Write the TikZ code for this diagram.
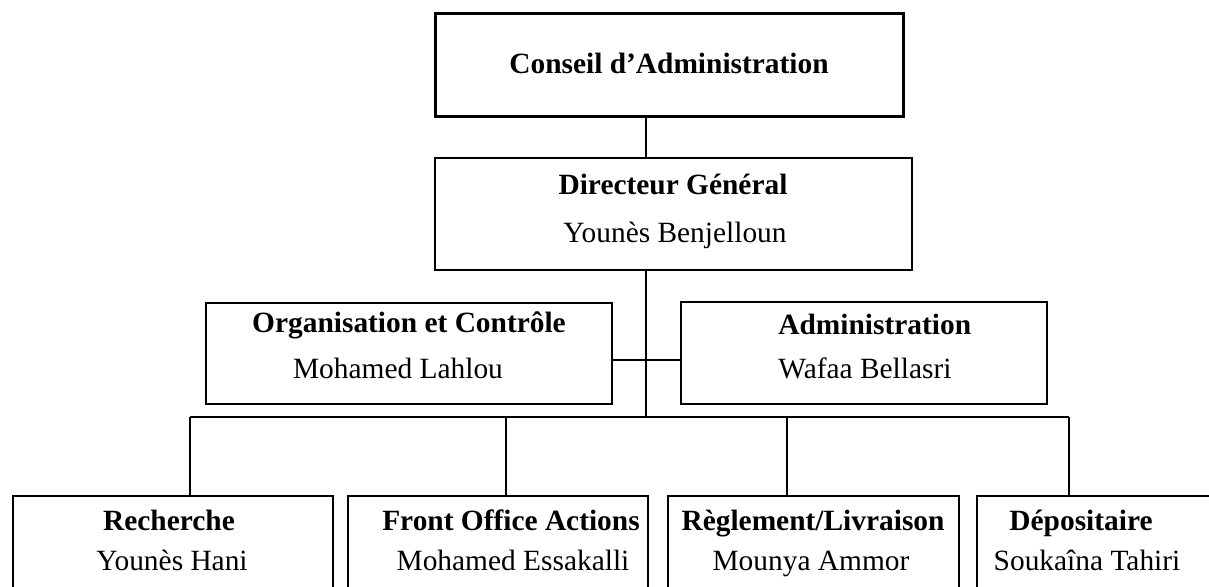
\documentclass[tikz,border=0pt]{standalone}
\usepackage{fontspec}
\setmainfont{Liberation Serif}
\begin{document}
\begin{tikzpicture}[x=0.5pt,y=-0.5pt,
  box/.style={draw,rectangle,inner sep=0pt,outer sep=0pt,line width=1pt},
  ttl/.style={font=\fontsize{14.7}{17}\selectfont\bfseries,inner sep=0pt,anchor=base},
  nm/.style={font=\fontsize{14.7}{17}\selectfont,inner sep=0pt,anchor=base},
  link/.style={line width=1pt}]
\useasboundingbox (0,0) rectangle (1209,586);
\clip (0,0) rectangle (1209,586);
\fill[white] (0,0) rectangle (1209,586);

% boxes
\node[box,line width=1.5pt,minimum width=234pt,minimum height=51.5pt] (conseil) at (669,64.5) {};
\node[box,minimum width=238.5pt,minimum height=56pt] (dg) at (673.5,214) {};
\node[box,minimum width=203pt,minimum height=50.5pt] (org) at (409,353.5) {};
\node[box,minimum width=183pt,minimum height=51pt] (admin) at (864,353) {};
\node[box,minimum width=160pt,minimum height=77pt] (rech) at (173,573) {};
\node[box,minimum width=150pt,minimum height=77pt] (front) at (498,573) {};
\node[box,minimum width=145.5pt,minimum height=77pt] (regl) at (813.5,573) {};
\node[box,minimum width=141.5pt,minimum height=77pt] (depo) at (1118.5,573) {};

% texts
\node[ttl] (t1) at (669,73) {Conseil d’Administration};
\node[ttl] (t2) at (673,194) {Directeur Général};
\node[nm]  (n2) at (675,242) {Younès Benjelloun};
\node[ttl] (t3) at (409,332) {Organisation et Contrôle};
\node[nm]  (n3) at (398,378) {Mohamed Lahlou};
\node[ttl,anchor=base west] (t4) at (778,334) {Administration};
\node[nm,anchor=base west]  (n4) at (778,378) {Wafaa Bellasri};
\node[ttl] (t5) at (169,530) {Recherche};
\node[nm]  (n5) at (172,570) {Younès Hani};
\node[ttl] (t6) at (511,530) {Front Office Actions};
\node[nm]  (n6) at (513,570) {Mohamed Essakalli};
\node[ttl] (t7) at (813,530) {Règlement/Livraison};
\node[nm]  (n7) at (811,570) {Mounya Ammor};
\node[ttl] (t8) at (1081,530) {Dépositaire};
\node[nm]  (n8) at (1087,570) {Soukaîna Tahiri};

% connectors
\coordinate (trunk) at (646,417);
\coordinate (mid) at (646,360);
\coordinate (b1) at (190,417);
\coordinate (b2) at (506,417);
\coordinate (b3) at (787,417);
\coordinate (b4) at (1069,417);
\draw[link] (trunk |- conseil.south) -- (trunk |- dg.north);
\draw[link] (trunk |- dg.south) -- (trunk);
\draw[link] (org.east |- mid) -- (admin.west |- mid);
\draw[link] (b1) -- (b4);
\draw[link] (b1) -- (b1 |- rech.north);
\draw[link] (b2) -- (b2 |- front.north);
\draw[link] (b3) -- (b3 |- regl.north);
\draw[link] (b4) -- (b4 |- depo.north);
\end{tikzpicture}
\end{document}
